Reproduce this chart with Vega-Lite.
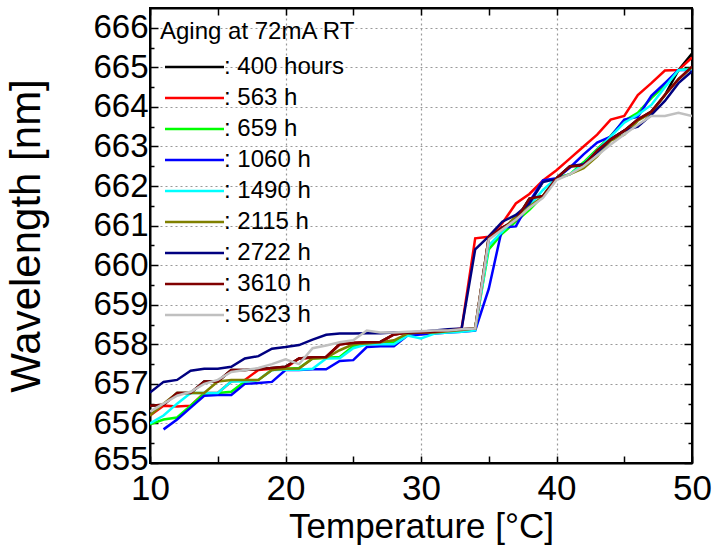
{
"$schema": "https://vega.github.io/schema/vega-lite/v6.json",
"width": 542, "height": 455,
"autosize": {"type": "none"},
"padding": {"left": 150, "top": 8, "right": 22, "bottom": 90},
"background": "white",
"config": {"view": {"stroke": "black", "strokeWidth": 2}, "font": "Liberation Sans"},
"data": {"values": [
{"t":10,"s":"400 hours","v":656.45},{"t":11,"s":"400 hours","v":656.47},{"t":12,"s":"400 hours","v":656.77},{"t":13,"s":"400 hours","v":656.77},{"t":14,"s":"400 hours","v":657.06},{"t":15,"s":"400 hours","v":657.06},{"t":16,"s":"400 hours","v":657.35},{"t":17,"s":"400 hours","v":657.35},{"t":18,"s":"400 hours","v":657.37},{"t":19,"s":"400 hours","v":657.4},{"t":20,"s":"400 hours","v":657.43},{"t":21,"s":"400 hours","v":657.64},{"t":22,"s":"400 hours","v":657.67},{"t":23,"s":"400 hours","v":657.68},{"t":24,"s":"400 hours","v":658.0},{"t":25,"s":"400 hours","v":658.03},{"t":26,"s":"400 hours","v":658.05},{"t":27,"s":"400 hours","v":658.06},{"t":28,"s":"400 hours","v":658.25},{"t":29,"s":"400 hours","v":658.3},{"t":30,"s":"400 hours","v":658.3},{"t":31,"s":"400 hours","v":658.32},{"t":32,"s":"400 hours","v":658.35},{"t":33,"s":"400 hours","v":658.38},{"t":34,"s":"400 hours","v":658.4},{"t":35,"s":"400 hours","v":660.7},{"t":36,"s":"400 hours","v":660.95},{"t":37,"s":"400 hours","v":661.14},{"t":38,"s":"400 hours","v":661.68},{"t":39,"s":"400 hours","v":661.75},{"t":40,"s":"400 hours","v":662.2},{"t":41,"s":"400 hours","v":662.5},{"t":42,"s":"400 hours","v":662.52},{"t":43,"s":"400 hours","v":662.9},{"t":44,"s":"400 hours","v":663.18},{"t":45,"s":"400 hours","v":663.4},{"t":46,"s":"400 hours","v":663.68},{"t":47,"s":"400 hours","v":663.88},{"t":48,"s":"400 hours","v":664.3},{"t":49,"s":"400 hours","v":664.93},{"t":50,"s":"400 hours","v":665.35},
{"t":10,"s":"563 h","v":656.2},{"t":11,"s":"563 h","v":656.45},{"t":12,"s":"563 h","v":656.43},{"t":13,"s":"563 h","v":656.45},{"t":14,"s":"563 h","v":656.77},{"t":15,"s":"563 h","v":656.77},{"t":16,"s":"563 h","v":657.06},{"t":17,"s":"563 h","v":657.1},{"t":18,"s":"563 h","v":657.35},{"t":19,"s":"563 h","v":657.38},{"t":20,"s":"563 h","v":657.4},{"t":21,"s":"563 h","v":657.64},{"t":22,"s":"563 h","v":657.66},{"t":23,"s":"563 h","v":657.68},{"t":24,"s":"563 h","v":658.0},{"t":25,"s":"563 h","v":658.03},{"t":26,"s":"563 h","v":658.05},{"t":27,"s":"563 h","v":658.05},{"t":28,"s":"563 h","v":658.25},{"t":29,"s":"563 h","v":658.3},{"t":30,"s":"563 h","v":658.3},{"t":31,"s":"563 h","v":658.32},{"t":32,"s":"563 h","v":658.35},{"t":33,"s":"563 h","v":658.4},{"t":34,"s":"563 h","v":660.68},{"t":35,"s":"563 h","v":660.72},{"t":36,"s":"563 h","v":661.06},{"t":37,"s":"563 h","v":661.56},{"t":38,"s":"563 h","v":661.8},{"t":39,"s":"563 h","v":662.14},{"t":40,"s":"563 h","v":662.4},{"t":41,"s":"563 h","v":662.7},{"t":42,"s":"563 h","v":663.0},{"t":43,"s":"563 h","v":663.3},{"t":44,"s":"563 h","v":663.68},{"t":45,"s":"563 h","v":663.77},{"t":46,"s":"563 h","v":664.3},{"t":47,"s":"563 h","v":664.6},{"t":48,"s":"563 h","v":664.92},{"t":49,"s":"563 h","v":664.93},{"t":50,"s":"563 h","v":665.25},
{"t":10,"s":"659 h","v":655.98},{"t":11,"s":"659 h","v":656.1},{"t":12,"s":"659 h","v":656.15},{"t":13,"s":"659 h","v":656.45},{"t":14,"s":"659 h","v":656.75},{"t":15,"s":"659 h","v":656.77},{"t":16,"s":"659 h","v":656.8},{"t":17,"s":"659 h","v":657.06},{"t":18,"s":"659 h","v":657.1},{"t":19,"s":"659 h","v":657.35},{"t":20,"s":"659 h","v":657.38},{"t":21,"s":"659 h","v":657.4},{"t":22,"s":"659 h","v":657.64},{"t":23,"s":"659 h","v":657.66},{"t":24,"s":"659 h","v":657.68},{"t":25,"s":"659 h","v":657.95},{"t":26,"s":"659 h","v":658.0},{"t":27,"s":"659 h","v":658.02},{"t":28,"s":"659 h","v":658.05},{"t":29,"s":"659 h","v":658.25},{"t":30,"s":"659 h","v":658.28},{"t":31,"s":"659 h","v":658.3},{"t":32,"s":"659 h","v":658.32},{"t":33,"s":"659 h","v":658.35},{"t":34,"s":"659 h","v":658.4},{"t":35,"s":"659 h","v":660.4},{"t":36,"s":"659 h","v":660.8},{"t":37,"s":"659 h","v":661.1},{"t":38,"s":"659 h","v":661.4},{"t":39,"s":"659 h","v":661.75},{"t":40,"s":"659 h","v":662.2},{"t":41,"s":"659 h","v":662.3},{"t":42,"s":"659 h","v":662.6},{"t":43,"s":"659 h","v":662.93},{"t":44,"s":"659 h","v":663.27},{"t":45,"s":"659 h","v":663.65},{"t":46,"s":"659 h","v":663.85},{"t":47,"s":"659 h","v":664.22},{"t":48,"s":"659 h","v":664.55},{"t":49,"s":"659 h","v":664.93},{"t":50,"s":"659 h","v":664.97},
{"t":11,"s":"1060 h","v":655.85},{"t":12,"s":"1060 h","v":656.1},{"t":13,"s":"1060 h","v":656.4},{"t":14,"s":"1060 h","v":656.7},{"t":15,"s":"1060 h","v":656.72},{"t":16,"s":"1060 h","v":656.72},{"t":17,"s":"1060 h","v":657.0},{"t":18,"s":"1060 h","v":657.02},{"t":19,"s":"1060 h","v":657.05},{"t":20,"s":"1060 h","v":657.35},{"t":21,"s":"1060 h","v":657.35},{"t":22,"s":"1060 h","v":657.37},{"t":23,"s":"1060 h","v":657.37},{"t":24,"s":"1060 h","v":657.58},{"t":25,"s":"1060 h","v":657.6},{"t":26,"s":"1060 h","v":657.93},{"t":27,"s":"1060 h","v":657.95},{"t":28,"s":"1060 h","v":657.95},{"t":29,"s":"1060 h","v":658.22},{"t":30,"s":"1060 h","v":658.25},{"t":31,"s":"1060 h","v":658.27},{"t":32,"s":"1060 h","v":658.3},{"t":33,"s":"1060 h","v":658.32},{"t":34,"s":"1060 h","v":658.35},{"t":35,"s":"1060 h","v":659.4},{"t":36,"s":"1060 h","v":660.95},{"t":37,"s":"1060 h","v":660.98},{"t":38,"s":"1060 h","v":661.6},{"t":39,"s":"1060 h","v":662.14},{"t":40,"s":"1060 h","v":662.2},{"t":41,"s":"1060 h","v":662.47},{"t":42,"s":"1060 h","v":662.8},{"t":43,"s":"1060 h","v":663.1},{"t":44,"s":"1060 h","v":663.25},{"t":45,"s":"1060 h","v":663.68},{"t":46,"s":"1060 h","v":663.75},{"t":47,"s":"1060 h","v":664.28},{"t":48,"s":"1060 h","v":664.6},{"t":49,"s":"1060 h","v":664.93},{"t":50,"s":"1060 h","v":664.93},
{"t":10,"s":"1490 h","v":656.0},{"t":11,"s":"1490 h","v":656.2},{"t":12,"s":"1490 h","v":656.5},{"t":13,"s":"1490 h","v":656.77},{"t":14,"s":"1490 h","v":656.77},{"t":15,"s":"1490 h","v":656.77},{"t":16,"s":"1490 h","v":657.06},{"t":17,"s":"1490 h","v":657.06},{"t":18,"s":"1490 h","v":657.1},{"t":19,"s":"1490 h","v":657.35},{"t":20,"s":"1490 h","v":657.36},{"t":21,"s":"1490 h","v":657.36},{"t":22,"s":"1490 h","v":657.38},{"t":23,"s":"1490 h","v":657.64},{"t":24,"s":"1490 h","v":657.65},{"t":25,"s":"1490 h","v":657.9},{"t":26,"s":"1490 h","v":658.0},{"t":27,"s":"1490 h","v":658.0},{"t":28,"s":"1490 h","v":658.0},{"t":29,"s":"1490 h","v":658.22},{"t":30,"s":"1490 h","v":658.15},{"t":31,"s":"1490 h","v":658.27},{"t":32,"s":"1490 h","v":658.3},{"t":33,"s":"1490 h","v":658.32},{"t":34,"s":"1490 h","v":658.35},{"t":35,"s":"1490 h","v":660.5},{"t":36,"s":"1490 h","v":660.85},{"t":37,"s":"1490 h","v":661.2},{"t":38,"s":"1490 h","v":661.5},{"t":39,"s":"1490 h","v":661.9},{"t":40,"s":"1490 h","v":662.2},{"t":41,"s":"1490 h","v":662.3},{"t":42,"s":"1490 h","v":662.55},{"t":43,"s":"1490 h","v":662.9},{"t":44,"s":"1490 h","v":663.25},{"t":45,"s":"1490 h","v":663.6},{"t":46,"s":"1490 h","v":663.8},{"t":47,"s":"1490 h","v":664.05},{"t":48,"s":"1490 h","v":664.5},{"t":49,"s":"1490 h","v":664.93},{"t":50,"s":"1490 h","v":664.95},
{"t":10,"s":"2115 h","v":656.2},{"t":11,"s":"2115 h","v":656.5},{"t":12,"s":"2115 h","v":656.77},{"t":13,"s":"2115 h","v":656.77},{"t":14,"s":"2115 h","v":656.77},{"t":15,"s":"2115 h","v":657.06},{"t":16,"s":"2115 h","v":657.1},{"t":17,"s":"2115 h","v":657.1},{"t":18,"s":"2115 h","v":657.1},{"t":19,"s":"2115 h","v":657.35},{"t":20,"s":"2115 h","v":657.38},{"t":21,"s":"2115 h","v":657.39},{"t":22,"s":"2115 h","v":657.64},{"t":23,"s":"2115 h","v":657.66},{"t":24,"s":"2115 h","v":657.85},{"t":25,"s":"2115 h","v":658.0},{"t":26,"s":"2115 h","v":658.02},{"t":27,"s":"2115 h","v":658.05},{"t":28,"s":"2115 h","v":658.1},{"t":29,"s":"2115 h","v":658.27},{"t":30,"s":"2115 h","v":658.3},{"t":31,"s":"2115 h","v":658.3},{"t":32,"s":"2115 h","v":658.33},{"t":33,"s":"2115 h","v":658.36},{"t":34,"s":"2115 h","v":658.4},{"t":35,"s":"2115 h","v":660.7},{"t":36,"s":"2115 h","v":660.9},{"t":37,"s":"2115 h","v":661.23},{"t":38,"s":"2115 h","v":661.48},{"t":39,"s":"2115 h","v":661.73},{"t":40,"s":"2115 h","v":662.18},{"t":41,"s":"2115 h","v":662.3},{"t":42,"s":"2115 h","v":662.45},{"t":43,"s":"2115 h","v":662.75},{"t":44,"s":"2115 h","v":663.15},{"t":45,"s":"2115 h","v":663.3},{"t":46,"s":"2115 h","v":663.65},{"t":47,"s":"2115 h","v":663.85},{"t":48,"s":"2115 h","v":664.3},{"t":49,"s":"2115 h","v":664.7},{"t":50,"s":"2115 h","v":665.0},
{"t":10,"s":"2722 h","v":656.78},{"t":11,"s":"2722 h","v":657.05},{"t":12,"s":"2722 h","v":657.1},{"t":13,"s":"2722 h","v":657.33},{"t":14,"s":"2722 h","v":657.38},{"t":15,"s":"2722 h","v":657.38},{"t":16,"s":"2722 h","v":657.43},{"t":17,"s":"2722 h","v":657.64},{"t":18,"s":"2722 h","v":657.7},{"t":19,"s":"2722 h","v":657.89},{"t":20,"s":"2722 h","v":657.93},{"t":21,"s":"2722 h","v":657.98},{"t":22,"s":"2722 h","v":658.12},{"t":23,"s":"2722 h","v":658.24},{"t":24,"s":"2722 h","v":658.27},{"t":25,"s":"2722 h","v":658.27},{"t":26,"s":"2722 h","v":658.28},{"t":27,"s":"2722 h","v":658.28},{"t":28,"s":"2722 h","v":658.3},{"t":29,"s":"2722 h","v":658.3},{"t":30,"s":"2722 h","v":658.32},{"t":31,"s":"2722 h","v":658.35},{"t":32,"s":"2722 h","v":658.38},{"t":33,"s":"2722 h","v":658.4},{"t":34,"s":"2722 h","v":660.4},{"t":35,"s":"2722 h","v":660.73},{"t":36,"s":"2722 h","v":661.1},{"t":37,"s":"2722 h","v":661.27},{"t":38,"s":"2722 h","v":661.56},{"t":39,"s":"2722 h","v":662.1},{"t":40,"s":"2722 h","v":662.18},{"t":41,"s":"2722 h","v":662.5},{"t":42,"s":"2722 h","v":662.55},{"t":43,"s":"2722 h","v":662.85},{"t":44,"s":"2722 h","v":663.18},{"t":45,"s":"2722 h","v":663.4},{"t":46,"s":"2722 h","v":663.5},{"t":47,"s":"2722 h","v":663.8},{"t":48,"s":"2722 h","v":664.15},{"t":49,"s":"2722 h","v":664.6},{"t":50,"s":"2722 h","v":664.9},
{"t":10,"s":"3610 h","v":656.45},{"t":11,"s":"3610 h","v":656.47},{"t":12,"s":"3610 h","v":656.77},{"t":13,"s":"3610 h","v":656.77},{"t":14,"s":"3610 h","v":657.06},{"t":15,"s":"3610 h","v":657.06},{"t":16,"s":"3610 h","v":657.35},{"t":17,"s":"3610 h","v":657.35},{"t":18,"s":"3610 h","v":657.37},{"t":19,"s":"3610 h","v":657.4},{"t":20,"s":"3610 h","v":657.43},{"t":21,"s":"3610 h","v":657.64},{"t":22,"s":"3610 h","v":657.67},{"t":23,"s":"3610 h","v":657.68},{"t":24,"s":"3610 h","v":658.0},{"t":25,"s":"3610 h","v":658.03},{"t":26,"s":"3610 h","v":658.05},{"t":27,"s":"3610 h","v":658.06},{"t":28,"s":"3610 h","v":658.25},{"t":29,"s":"3610 h","v":658.3},{"t":30,"s":"3610 h","v":658.3},{"t":31,"s":"3610 h","v":658.32},{"t":32,"s":"3610 h","v":658.35},{"t":33,"s":"3610 h","v":658.38},{"t":34,"s":"3610 h","v":658.4},{"t":35,"s":"3610 h","v":660.7},{"t":36,"s":"3610 h","v":660.95},{"t":37,"s":"3610 h","v":661.14},{"t":38,"s":"3610 h","v":661.68},{"t":39,"s":"3610 h","v":661.75},{"t":40,"s":"3610 h","v":662.2},{"t":41,"s":"3610 h","v":662.5},{"t":42,"s":"3610 h","v":662.52},{"t":43,"s":"3610 h","v":662.9},{"t":44,"s":"3610 h","v":663.18},{"t":45,"s":"3610 h","v":663.4},{"t":46,"s":"3610 h","v":663.68},{"t":47,"s":"3610 h","v":663.88},{"t":48,"s":"3610 h","v":664.3},{"t":49,"s":"3610 h","v":664.7},{"t":50,"s":"3610 h","v":665.02},
{"t":10,"s":"5623 h","v":656.3},{"t":11,"s":"5623 h","v":656.5},{"t":12,"s":"5623 h","v":656.7},{"t":13,"s":"5623 h","v":656.8},{"t":14,"s":"5623 h","v":657.0},{"t":15,"s":"5623 h","v":657.1},{"t":16,"s":"5623 h","v":657.3},{"t":17,"s":"5623 h","v":657.35},{"t":18,"s":"5623 h","v":657.4},{"t":19,"s":"5623 h","v":657.5},{"t":20,"s":"5623 h","v":657.62},{"t":21,"s":"5623 h","v":657.5},{"t":22,"s":"5623 h","v":657.9},{"t":23,"s":"5623 h","v":657.97},{"t":24,"s":"5623 h","v":658.05},{"t":25,"s":"5623 h","v":658.1},{"t":26,"s":"5623 h","v":658.35},{"t":27,"s":"5623 h","v":658.3},{"t":28,"s":"5623 h","v":658.3},{"t":29,"s":"5623 h","v":658.32},{"t":30,"s":"5623 h","v":658.33},{"t":31,"s":"5623 h","v":658.35},{"t":32,"s":"5623 h","v":658.35},{"t":33,"s":"5623 h","v":658.38},{"t":34,"s":"5623 h","v":658.4},{"t":35,"s":"5623 h","v":660.65},{"t":36,"s":"5623 h","v":660.9},{"t":37,"s":"5623 h","v":661.15},{"t":38,"s":"5623 h","v":661.45},{"t":39,"s":"5623 h","v":661.7},{"t":40,"s":"5623 h","v":662.15},{"t":41,"s":"5623 h","v":662.3},{"t":42,"s":"5623 h","v":662.5},{"t":43,"s":"5623 h","v":662.77},{"t":44,"s":"5623 h","v":663.05},{"t":45,"s":"5623 h","v":663.3},{"t":46,"s":"5623 h","v":663.55},{"t":47,"s":"5623 h","v":663.77},{"t":48,"s":"5623 h","v":663.77},{"t":49,"s":"5623 h","v":663.85},{"t":50,"s":"5623 h","v":663.77}
]},
"layer": [
{
"mark": {"type": "line", "strokeWidth": 2.5, "clip": true},
"encoding": {
"x": {"field": "t", "type": "quantitative", "scale": {"domain": [10, 50], "nice": false, "zero": false},
 "axis": {"orient": "bottom", "values": [10,15,20,25,30,35,40,45,50], "format": "d",
  "labelExpr": "datum.value % 10 === 0 ? datum.label : ''",
  "title": "Temperature [°C]", "titleFont": "Liberation Sans", "titleFontSize": 35, "titleFontWeight": "normal", "titleColor": "black", "titlePadding": 3,
  "labelFont": "Liberation Sans", "labelFontSize": 35, "labelColor": "black", "labelPadding": 15, "labelFlush": false, "labelOverlap": false,
  "tickColor": "black", "tickWidth": 1.5, "tickSize": -7,
  "domainColor": "black", "domainWidth": 2,
  "grid": true, "gridColor": "#999999", "gridDash": [2, 3], "gridWidth": 1.2,
  "gridOpacity": {"condition": {"test": "datum.value % 10 !== 0 || datum.value === 10 || datum.value === 50", "value": 0}, "value": 1}}},
"y": {"field": "v", "type": "quantitative", "scale": {"domain": [655, 666.5], "nice": false, "zero": false},
 "axis": {"orient": "left", "values": [655,655.5,656,656.5,657,657.5,658,658.5,659,659.5,660,660.5,661,661.5,662,662.5,663,663.5,664,664.5,665,665.5,666], "format": ".0f",
  "labelExpr": "datum.value % 1 === 0 ? datum.label : ''",
  "labelOffset": {"condition": {"test": "datum.value === 655", "value": -4}, "value": 0},
  "title": "Wavelength [nm]", "titleFont": "Liberation Sans", "titleFontSize": 42, "titleFontWeight": "normal", "titleColor": "black", "titlePadding": 44,
  "labelFont": "Liberation Sans", "labelFontSize": 33, "labelColor": "black", "labelPadding": 10, "labelFlush": false, "labelOverlap": false,
  "tickColor": "black", "tickWidth": 1.5,
  "tickSize": {"condition": {"test": "datum.value % 1 !== 0", "value": -4}, "value": -8},
  "domainColor": "black", "domainWidth": 2,
  "grid": true, "gridColor": "#999999", "gridDash": [2, 3], "gridWidth": 1.2,
  "gridOpacity": {"condition": {"test": "datum.value % 1 !== 0 || datum.value === 655", "value": 0}, "value": 1}}},
"color": {"field": "s", "type": "nominal",
 "scale": {"domain": ["400 hours","563 h","659 h","1060 h","1490 h","2115 h","2722 h","3610 h","5623 h"],
  "range": ["#000000","#ff0000","#00ff00","#0000ff","#00ffff","#808000","#000080","#800000","#c0c0c0"]},
 "legend": {"orient": "none", "legendX": 10, "legendY": 12, "padding": 0,
  "title": "Aging at 72mA RT", "titleFont": "Liberation Sans", "titleFontSize": 24, "titleFontWeight": "normal", "titleColor": "black", "titlePadding": 11, "titleLimit": 400,
  "labelFont": "Liberation Sans", "labelFontSize": 24, "labelColor": "black", "labelExpr": "': ' + datum.label", "labelLimit": 300,
  "symbolType": "M-0.7,0H5.2", "symbolSize": 400, "symbolStrokeWidth": 2.5, "labelOffset": 40, "rowPadding": 7}}
}
},
{
"mark": {"type": "line", "opacity": 0},
"encoding": {
"x": {"field": "t", "type": "quantitative",
 "axis": {"orient": "top", "values": [10,15,20,25,30,35,40,45,50], "labels": false, "title": null, "grid": false,
  "tickColor": "black", "tickWidth": 1.5, "tickSize": -7, "domainColor": "black", "domainWidth": 2}},
"y": {"field": "v", "type": "quantitative",
 "axis": {"orient": "right", "values": [655,655.5,656,656.5,657,657.5,658,658.5,659,659.5,660,660.5,661,661.5,662,662.5,663,663.5,664,664.5,665,665.5,666], "labels": false, "title": null, "grid": false,
  "tickColor": "black", "tickWidth": 1.5,
  "tickSize": {"condition": {"test": "datum.value % 1 !== 0", "value": -4}, "value": -8},
  "domainColor": "black", "domainWidth": 2}},
"detail": {"field": "s", "type": "nominal"}
}
}
],
"resolve": {"axis": {"x": "independent", "y": "independent"}}
}
